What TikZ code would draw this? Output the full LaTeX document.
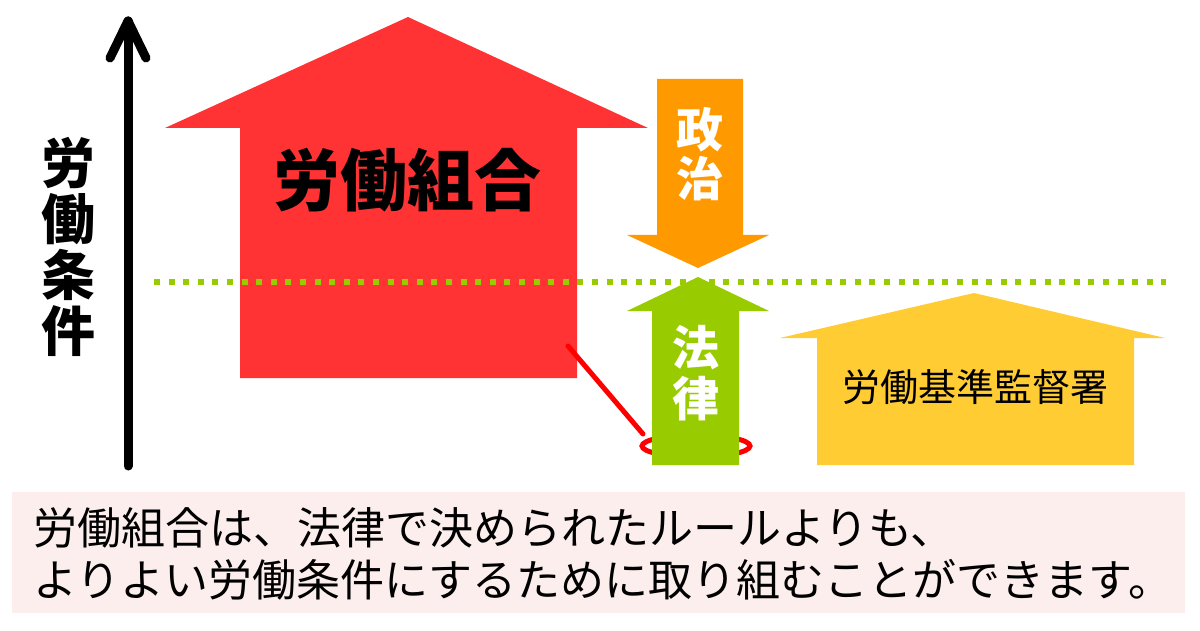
\documentclass[tikz,border=0pt]{standalone}
\usepackage{fontspec}
\newfontfamily\jp{Noto Sans CJK JP}
\definecolor{arrowred}{HTML}{FF3333}
\definecolor{arroworange}{HTML}{FF9900}
\definecolor{arrowgreen}{HTML}{99CC00}
\definecolor{houseyellow}{HTML}{FFCC33}
\definecolor{linered}{HTML}{FF0000}
\definecolor{boxpink}{HTML}{FDEEEE}
\tikzset{
  boldlabel/.style={inner sep=0pt, align=center, font=\jp\bfseries},
}
\begin{document}
\begin{tikzpicture}[x=1pt,y=-1pt]
\useasboundingbox (0,0) rectangle (1200,631);
\fill[white] (0,0) rectangle (1200,631);

% axis arrow
\draw[line width=9pt, line cap=round, line join=round] (128,466) -- (128,21);
\draw[line width=9pt, line cap=round, line join=round] (110,58) -- (128,21) -- (146,58);
\node[boldlabel, font=\jp\bfseries\fontsize{54}{56}\selectfont] (axis) at (68,247) {労\\働\\条\\件};

% red big arrow
\fill[arrowred] (408,17) -- (648,128) -- (577,128) -- (577,378) -- (240,378) -- (240,128) -- (165,128) -- cycle;
\node[boldlabel, font=\jp\bfseries\fontsize{67}{67}\selectfont] (union) at (407,180) {労働組合};

% yellow house
\fill[houseyellow] (974,293) -- (1165,338) -- (1134,338) -- (1134,465) -- (817,465) -- (817,338) -- (780,338) -- cycle;
\node[inner sep=0pt, font=\jp\fontsize{38}{38}\selectfont] (office) at (975,387) {労働基準監督署};

% orange arrow
\fill[arroworange] (657,79) -- (743,79) -- (743,235) -- (769,235) -- (698,268) -- (627,235) -- (657,235) -- cycle;
\node[boldlabel, text=white, font=\jp\bfseries\fontsize{47}{49}\selectfont] (politics) at (700,154) {政\\治};

% red pointer and ellipse
\coordinate (p1) at (568,346);
\coordinate (p2) at (643,434);
\draw[linered, line width=5pt, line cap=round] (p1) -- (p2);
\draw[linered, line width=5pt] (696,446) ellipse [x radius=54, y radius=11];

% green arrow
\fill[arrowgreen] (698,277) -- (769,311) -- (739,311) -- (739,465) -- (652,465) -- (652,311) -- (627,311) -- cycle;
\node[boldlabel, text=white, font=\jp\bfseries\fontsize{47}{51}\selectfont] (law) at (696,373) {法\\律};

% dotted line
\draw[arrowgreen, line width=6pt, dash pattern=on 6pt off 8.6pt] (154,282) -- (1166,282);

% bottom box
\fill[boxpink] (12,492) rectangle (1185,613);
\node[inner sep=0pt, anchor=west, align=left, font=\jp\fontsize{44}{52}\selectfont] (note) at (33,554)
  {労働組合は、法律で決められたルールよりも、\\よりよい労働条件にするために取り組むことができます。};
\end{tikzpicture}
\end{document}
